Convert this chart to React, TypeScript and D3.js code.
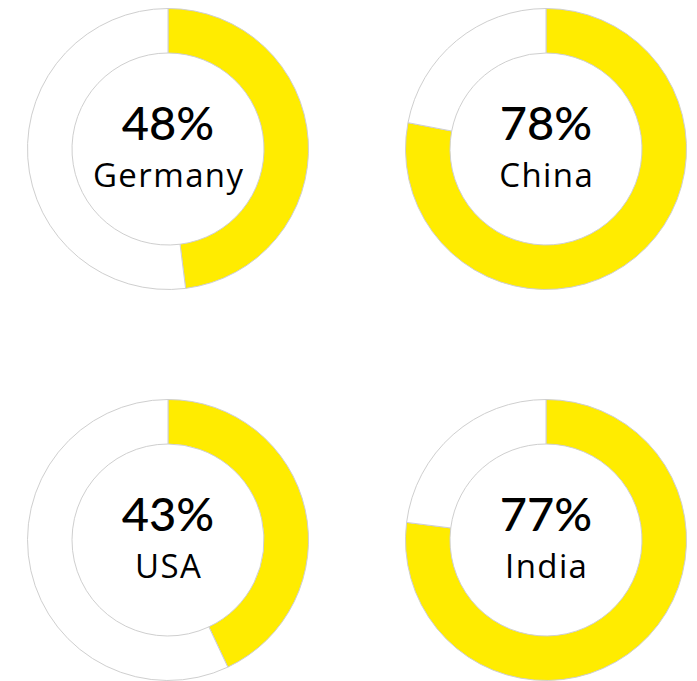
import React from "react";
import * as d3 from "d3";

const countries = ["Germany", "China", "USA", "India"];
const values = [48, 78, 43, 77];

const W = 697;
const H = 681;
const centersX = [168, 546];
const centersY = [149, 540];
const outerR = 140.5;
const innerR = 96;
const YELLOW = "#FFEC00";
const STROKE = "#cfcfcf";

export default function App() {
  const pie = d3
    .pie<number>()
    .sort(null)
    .value((d) => d);
  const arc = d3.arc<d3.PieArcDatum<number>>().innerRadius(innerR).outerRadius(outerR);

  return (
    <svg
      width={W}
      height={H}
      style={{ position: "absolute", left: 0, top: 0, background: "#fff" }}
    >
      {countries.map((c, i) => {
        const cx = centersX[i % 2];
        const cy = centersY[Math.floor(i / 2)];
        const arcs = pie([values[i], 100 - values[i]]);
        return (
          <g key={c} transform={`translate(${cx},${cy})`}>
            {arcs.map((a, j) => (
              <path
                key={j}
                d={arc(a) || ""}
                fill={j === 0 ? YELLOW : "#ffffff"}
                stroke={STROKE}
                strokeWidth={1}
              />
            ))}
            <text
              y={-9}
              textAnchor="middle"
              fontFamily="Lato, sans-serif"
              fontSize={47}
              fontWeight={500}
              fill="#000"
            >
              {values[i]}%
            </text>
            <text
              x={0.7}
              y={38}
              textAnchor="middle"
              fontFamily="'Open Sans', sans-serif"
              fontSize={33}
              fontWeight={400}
              letterSpacing={1.4}
              fill="#000"
            >
              {c}
            </text>
          </g>
        );
      })}
    </svg>
  );
}
